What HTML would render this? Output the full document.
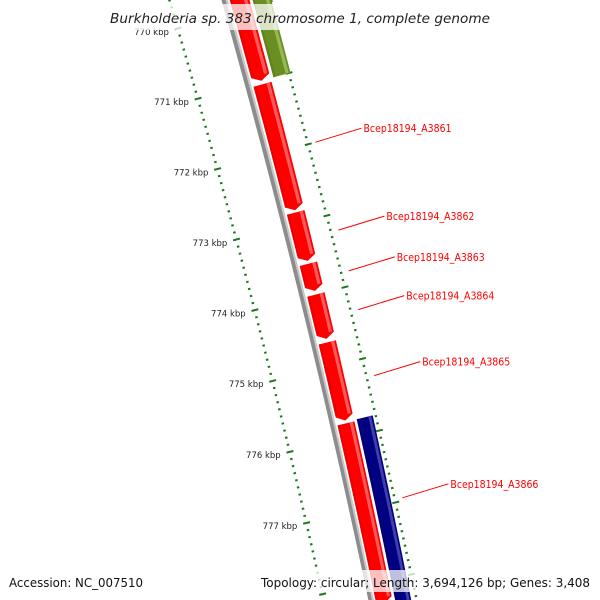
<!DOCTYPE html>
<html><head><meta charset="utf-8"><style>
html,body{margin:0;padding:0;background:#fff;overflow:hidden;width:600px;height:600px;}
svg{display:block;}
</style></head><body>
<svg id="map" width="600" height="600" viewBox="0 0 600 600" xmlns="http://www.w3.org/2000/svg">
<g id="ticks"></g>
<g id="tracks"></g>
<g id="labels"></g>
<rect x="104" y="4" width="392" height="26" fill="#fff" fill-opacity="0.75"/>
<text x="300" y="23" text-anchor="middle" font-family="DejaVu Sans, Liberation Sans, sans-serif" font-style="italic" font-size="13.5" textLength="380" lengthAdjust="spacingAndGlyphs" fill="#222">Burkholderia sp. 383 chromosome 1, complete genome</text>
<rect x="4" y="570" width="144" height="22" fill="#fff" fill-opacity="0.75"/>
<text x="9" y="587" font-family="DejaVu Sans, Liberation Sans, sans-serif" font-size="12" textLength="134" lengthAdjust="spacingAndGlyphs" fill="#111">Accession: NC_007510</text>
<rect x="256" y="570" width="340" height="22" fill="#fff" fill-opacity="0.75"/>
<text x="590" y="587" text-anchor="end" font-family="DejaVu Sans, Liberation Sans, sans-serif" font-size="12" textLength="329" lengthAdjust="spacingAndGlyphs" fill="#111">Topology: circular; Length: 3,694,126 bp; Genes: 3,408</text>
</svg>
<script>
// ---- data ----
const featureNames = ["Bcep18194_A3860","Bcep18194_A3861","Bcep18194_A3862","Bcep18194_A3863","Bcep18194_A3864","Bcep18194_A3865","Bcep18194_A3866","green-feature","blue-feature","next-feature"];
const featureStarts = [768.5, 771.05, 772.85, 773.57, 774.0, 774.67, 775.8, 768.5, 775.78, 778.35];
const featureEnds   = [771.0, 772.82, 773.53, 773.95, 774.62, 775.76, 778.3, 771.0, 779.5, 779.6];
const featureTracks = ["fwd","fwd","fwd","fwd","fwd","fwd","fwd","outer","outer","rev"];
const featureColors = ["red","red","red","red","red","red","red","olive","navy","blue"];
const labelTexts = ["Bcep18194_A3861","Bcep18194_A3862","Bcep18194_A3863","Bcep18194_A3864","Bcep18194_A3865","Bcep18194_A3866"];
const labelKbp = [772.0, 773.23, 773.8, 774.34, 775.26, 776.96];
const tickKbp = [770, 771, 772, 773, 774, 775, 776, 777];
const tickLabels = ["770 kbp","771 kbp","772 kbp","773 kbp","774 kbp","775 kbp","776 kbp","777 kbp"];

// ---- geometry ----
const NS = "http://www.w3.org/2000/svg";
const Ri = 9000, CX = -8465, CY = 2540, PHI0 = -0.2828, DPHI = 0.00811;
function ang(k){ return PHI0 + (k - 770) * DPHI; }
function scaleF(k){ return 1 - 0.015 * (k - 770); }
function pt(k, off){ const a = ang(k), r = Ri + off; return [CX + r*Math.cos(a), CY + r*Math.sin(a)]; }
function tpt(k, off){ return pt(k, off * scaleF(k)); }
function outerOff(k){ return 95 - 0.5 * (k - 770); }
const colorMap = {red:["#ff0000","#ff6a6a","#c00000"], olive:["#6b8e23","#9fbf5a","#4d6a14"], navy:["#000080","#4a4ab0","#000050"], blue:["#0000ff","#6060ff","#0000a0"]};
const trackOff = {fwd:[58,77], outer:[80,98], rev:[33,47]};
function mk(tag, attrs, parent){ const e = document.createElementNS(NS, tag); for (const k in attrs) e.setAttribute(k, attrs[k]); parent.appendChild(e); return e; }
function edge(k0, k1, off, n){ const pts=[]; for(let i=0;i<=n;i++){ const k=k0+(k1-k0)*i/n; pts.push(tpt(k,off)); } return pts; }
function poly(pts){ return pts.map(p=>p[0].toFixed(2)+","+p[1].toFixed(2)).join(" "); }

// ---- backbone ----
const tracks = document.getElementById("tracks");
{
  const a = edge(768.5, 779.6, 50, 40), b = edge(768.5, 779.6, 56, 40).reverse();
  const bb = mk("polygon", {points: poly(a.concat(b)), fill:"#8c8c8c"}, tracks);
  
  
  const c = edge(768.5, 779.6, 54, 40), d = edge(768.5, 779.6, 56, 40).reverse();
  const hl = mk("polygon", {points: poly(c.concat(d)), fill:"#c8c8c8"}, tracks);
  
  
}

// ---- features ----
function featurePts(k0, k1, o0, o1, dir){
  const ah = 0.07, n = 20;
  if (dir === "fwd"){
    const b1 = k1 - ah;
    const inner = edge(k0, b1, o0, n), outer = edge(k0, b1, o1, n).reverse();
    return inner.concat([tpt(k1, (o0+o1)/2)], outer);
  } else {
    const b0 = k0 + ah;
    const inner = edge(b0, k1, o0, n), outer = edge(b0, k1, o1, n).reverse();
    return [tpt(k0,(o0+o1)/2)].concat(inner, outer);
  }
}
for (let i = 0; i < featureNames.length; i++){
  const tr = trackOff[featureTracks[i]];
  const dir = featureTracks[i] === "rev" ? "rev" : (featureTracks[i]==="outer" ? "none" : "fwd");
  const cols = colorMap[featureColors[i]];
  const g = mk("g", {}, tracks);
  
  
  let pts;
  if (dir === "none"){
    pts = edge(featureStarts[i], featureEnds[i], tr[0], 20).concat(edge(featureStarts[i], featureEnds[i], tr[1], 20).reverse());
  } else pts = featurePts(featureStarts[i], featureEnds[i], tr[0], tr[1], dir);
  mk("polygon", {points: poly(pts), fill: cols[0]}, g);
  const w = tr[1]-tr[0];
  const hs = tr[0] + w*0.72, he = tr[0] + w*0.9;
  const kEnd = dir === "fwd" ? featureEnds[i] - 0.08 : featureEnds[i];
  const kSt = dir === "rev" ? featureStarts[i] + 0.08 : featureStarts[i];
  const hp = edge(kSt, kEnd, hs, 20).concat(edge(kSt, kEnd, he, 20).reverse());
  mk("polygon", {points: poly(hp), fill: cols[1], "fill-opacity": 0.85}, g);
  const dp = edge(kSt, kEnd, tr[0], 20).concat(edge(kSt, kEnd, tr[0] + w*0.12, 20).reverse());
  mk("polygon", {points: poly(dp), fill: cols[2], "fill-opacity": 0.35}, g);
}

// ---- ruler rings ----
const ticks = document.getElementById("ticks");
function tickLine(k, off, r0, r1, w, name){
  const p = pt(k, off + r0), q = pt(k, off + r1);
  const l = mk("line", {x1:p[0].toFixed(2), y1:p[1].toFixed(2), x2:q[0].toFixed(2), y2:q[1].toFixed(2), stroke:"#1a7a1a", "stroke-width": w}, ticks);
  
  
}
for (let m = 7690; m <= 7795; m++){
  const k = m / 10;
  if (m % 10 === 0) continue;
  tickLine(k, 0, -1, 1.5, 2, 'inner-minor-tick');
  tickLine(k, outerOff(k), -1, 1.5, 2, 'outer-minor-tick');
}
for (let m = 769; m <= 779; m++){
  tickLine(m, 0, -3, 4, 2, 'inner-major-tick');
  tickLine(m, outerOff(m), -3, 4, 2, 'outer-major-tick');
}
for (let i = 0; i < tickKbp.length; i++){
  const k = tickKbp[i];
  const p = pt(k, -9);
  const t = mk("text", {x:p[0].toFixed(1), y:(p[1]+4).toFixed(1), "text-anchor":"end", "font-family":"DejaVu Sans, Liberation Sans, sans-serif", "font-size":"8.5", fill:"#222"}, ticks);
  t.textContent = tickLabels[i];
  
  
}

// ---- feature labels ----
const labels = document.getElementById("labels");
for (let i = 0; i < labelTexts.length; i++){
  const k = labelKbp[i];
  const s = pt(k, outerOff(k) + 8);
  const e = [s[0] + 46, s[1] - 14];
  const l = mk("line", {x1:s[0].toFixed(1), y1:s[1].toFixed(1), x2:e[0].toFixed(1), y2:e[1].toFixed(1), stroke:"#ff0000", "stroke-width":1}, labels);
  
  
  const t = mk("text", {x:(e[0]+2).toFixed(1), y:(e[1]+4).toFixed(1), "font-family":"DejaVu Sans Condensed, DejaVu Sans, Liberation Sans, sans-serif", "font-size":"10.5", fill:"#ff0000", textLength:"88", lengthAdjust:"spacingAndGlyphs"}, labels);
  t.textContent = labelTexts[i];
  
  
}
</script>
</body></html>
